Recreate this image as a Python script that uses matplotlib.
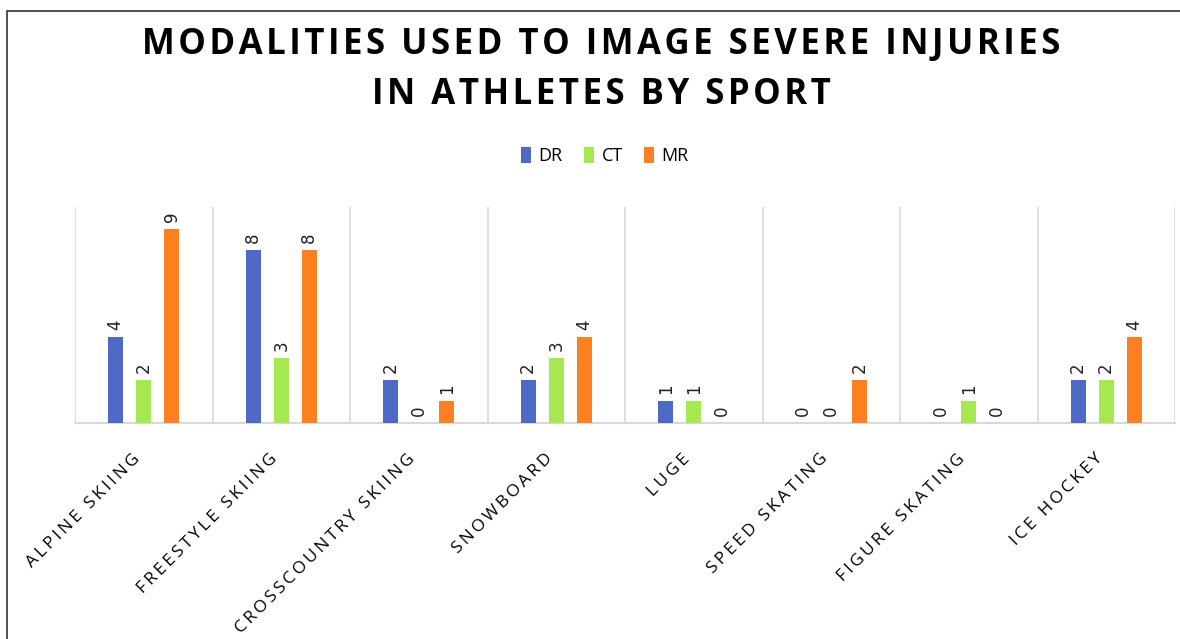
import matplotlib.pyplot as plt
import matplotlib.transforms as mtransforms
import numpy as np
from matplotlib.patches import Rectangle

sports = ['ALPINE SKIING', 'FREESTYLE SKIING', 'CROSSCOUNTRY SKIING', 'SNOWBOARD',
          'LUGE', 'SPEED SKATING', 'FIGURE SKATING', 'ICE HOCKEY']
dr = [4, 8, 2, 2, 1, 0, 0, 2]
ct = [2, 3, 0, 3, 1, 0, 1, 2]
mr = [9, 8, 1, 4, 0, 2, 0, 4]

series = [('DR', dr, '#4F69C6'), ('CT', ct, '#A6E850'), ('MR', mr, '#FF8021')]

plt.rcParams['font.family'] = ['Open Sans', 'DejaVu Sans']


def spaced(s, sep='\u2009'):
    # imitate the wide letter spacing of the original labels
    return sep.join(s)


fig = plt.figure(figsize=(11.8, 6.39), dpi=100)
ax = fig.add_axes([75 / 1180, 1 - 423 / 639, 1100 / 1180, 216 / 639])

x = np.arange(len(sports))
width = 0.109
step = 0.204
for i, (name, vals, col) in enumerate(series):
    pos = x + (i - 1) * step
    bars = ax.bar(pos, vals, width, color=col, label=name, zorder=3)
    for b, v in zip(bars, vals):
        ax.annotate(str(v), (b.get_x() + b.get_width() / 2, v),
                    xytext=(0, 5), textcoords='offset points',
                    ha='center', va='bottom', rotation=90,
                    fontsize=12, family='DejaVu Sans', color='#222222')

ax.set_xlim(-0.5, len(sports) - 0.5)
ax.set_ylim(0, 10)
ax.set_yticks([])
ax.set_xticks(x)
ax.set_xticklabels([spaced(s) for s in sports], rotation=45, ha='right',
                   rotation_mode='anchor', fontsize=12.5)
ax.tick_params(axis='x', length=0, pad=20)
shift = mtransforms.ScaledTranslation(-12 / 100, 0, fig.dpi_scale_trans)
for lab in ax.get_xticklabels():
    lab.set_transform(lab.get_transform() + shift)
ax.set_xticks(np.arange(-0.5, len(sports)), minor=True)
ax.tick_params(axis='x', which='minor', length=0)
ax.grid(axis='x', which='minor', color='#D9D9D9', linewidth=1.2, zorder=0)
for s in ['top', 'right', 'left']:
    ax.spines[s].set_visible(False)
ax.spines['bottom'].set_color('#D9D9D9')
ax.spines['bottom'].set_linewidth(1.5)

fig.text(601 / 1180, 1 - 45 / 639, spaced('MODALITIES USED TO IMAGE SEVERE INJURIES', '\u200a'),
         ha='center', va='center', fontsize=25, fontweight='bold')
fig.text(601 / 1180, 1 - 95 / 639, spaced('IN ATHLETES BY SPORT', '\u200a'),
         ha='center', va='center', fontsize=25, fontweight='bold')

fig.legend(loc='center', bbox_to_anchor=(605 / 1180, 1 - 156 / 639), ncol=3,
           frameon=False, fontsize=13, handlelength=0.55, handleheight=1.0,
           handletextpad=0.4, columnspacing=1.2)

fig.patches.append(Rectangle((7 / 1180, -0.1), 1.1, 1.1 - 11 / 639,
                             transform=fig.transFigure, fill=False,
                             edgecolor='#333333', linewidth=1.2))

fig.savefig('out.png', dpi=100)
